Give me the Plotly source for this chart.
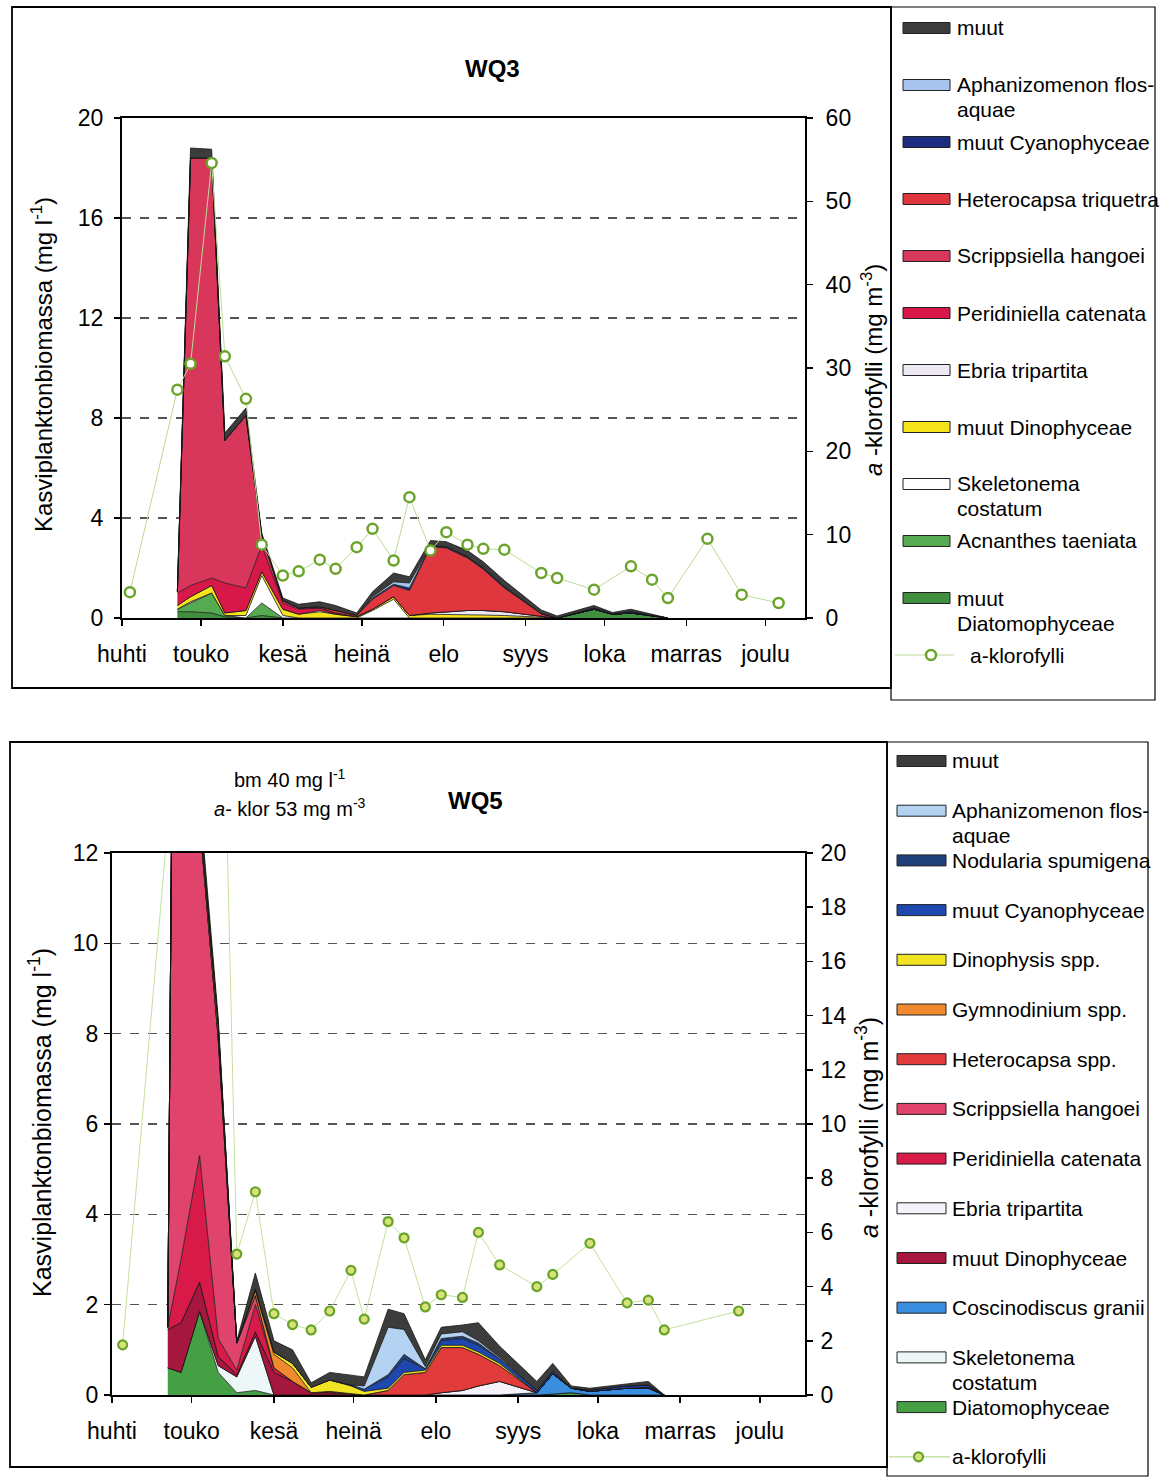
import plotly.graph_objects as go

W, H = 1170, 1477
FONT = "Arial, Liberation Sans, sans-serif"

def px(x):
    return x / W

def py(y):
    return 1 - y / H

# ---------------- data: WQ3 ----------------
month_ticks = ['2000-04-01', '2000-05-01', '2000-06-01', '2000-07-01', '2000-08-01',
               '2000-09-01', '2000-10-01', '2000-11-01', '2000-12-01']
month_names = ['huhti', 'touko', 'kesä', 'heinä', 'elo', 'syys', 'loka', 'marras', 'joulu']

wq3_dates = ['2000-04-22', '2000-04-27', '2000-05-05', '2000-05-10', '2000-05-18', '2000-05-24',
             '2000-06-01', '2000-06-07', '2000-06-15', '2000-06-21', '2000-06-29', '2000-07-05',
             '2000-07-13', '2000-07-19', '2000-07-27', '2000-08-02', '2000-08-10', '2000-08-16',
             '2000-08-24', '2000-09-07', '2000-09-13', '2000-09-27', '2000-10-04', '2000-10-11',
             '2000-10-19', '2000-10-25']
wq3_muut_diatom = [0.25, 0.25, 0.2, 0.05, 0, 0.1, 0, 0, 0, 0, 0, 0, 0, 0, 0, 0, 0, 0, 0, 0, 0, 0.35, 0.15, 0.2, 0.1, 0]
wq3_acnanthes = [0.1, 0.35, 0.8, 0.05, 0, 0.5, 0, 0, 0, 0, 0, 0, 0, 0, 0, 0, 0, 0, 0, 0, 0, 0, 0, 0, 0, 0]
wq3_skeletonema = [0, 0.05, 0, 0, 0.1, 1.1, 0.1, 0, 0, 0, 0, 0.3, 0.75, 0, 0, 0, 0, 0, 0, 0, 0, 0, 0, 0, 0, 0]
wq3_muut_dino = [0.15, 0.2, 0.3, 0.1, 0.2, 0.15, 0.25, 0.15, 0.25, 0.15, 0.05, 0.05, 0.1, 0.1, 0.15, 0.15, 0.15, 0.12, 0.1, 0.02, 0, 0, 0, 0, 0, 0]
wq3_ebria = [0, 0, 0, 0, 0, 0, 0, 0, 0.05, 0, 0, 0, 0, 0, 0.05, 0.1, 0.15, 0.18, 0.15, 0.05, 0, 0, 0, 0, 0, 0]
wq3_peridiniella = [0.5, 0.45, 0.3, 1.2, 0.9, 1.05, 0.25, 0.2, 0.1, 0.05, 0, 0, 0, 0, 0, 0, 0, 0, 0, 0, 0, 0, 0, 0, 0, 0]
wq3_scrippsiella = [0.05, 17.1, 16.8, 5.7, 6.9, 0.4, 0.1, 0.05, 0, 0, 0, 0, 0, 0, 0, 0, 0, 0, 0, 0, 0, 0, 0, 0, 0, 0]
wq3_heterocapsa = [0, 0, 0, 0, 0, 0, 0, 0, 0.05, 0.1, 0.05, 0.4, 0.45, 1.0, 2.65, 2.55, 2.1, 1.65, 0.95, 0.1, 0, 0, 0, 0, 0, 0]
wq3_muut_cyano = [0, 0, 0, 0, 0, 0, 0, 0, 0, 0, 0, 0.05, 0.05, 0.1, 0.05, 0.05, 0.05, 0.05, 0.05, 0, 0, 0.05, 0.02, 0.05, 0, 0]
wq3_aphanizomenon = [0, 0, 0, 0, 0, 0, 0, 0, 0, 0, 0, 0.05, 0.1, 0.2, 0, 0, 0, 0, 0, 0, 0, 0, 0, 0, 0, 0]
wq3_muut = [0.05, 0.4, 0.35, 0.3, 0.3, 0.1, 0.1, 0.15, 0.2, 0.2, 0.1, 0.2, 0.35, 0.25, 0.2, 0.2, 0.25, 0.25, 0.25, 0.15, 0.08, 0.1, 0.05, 0.1, 0.05, 0]

wq3_chl_dates = ['2000-04-04', '2000-04-22', '2000-04-27', '2000-05-05', '2000-05-10', '2000-05-18',
                 '2000-05-24', '2000-06-01', '2000-06-07', '2000-06-15', '2000-06-21', '2000-06-29',
                 '2000-07-05', '2000-07-13', '2000-07-19', '2000-07-27', '2000-08-02', '2000-08-10',
                 '2000-08-16', '2000-08-24', '2000-09-07', '2000-09-13', '2000-09-27', '2000-10-11',
                 '2000-10-19', '2000-10-25', '2000-11-09', '2000-11-22', '2000-12-06']
wq3_chl = [3.1, 27.4, 30.5, 54.6, 31.4, 26.3, 8.8, 5.1, 5.6, 7.0, 5.9, 8.5, 10.7, 6.9, 14.5, 8.1,
           10.3, 8.8, 8.3, 8.2, 5.4, 4.8, 3.4, 6.2, 4.6, 2.4, 9.5, 2.8, 1.8]

# stacking order bottom -> top
wq3_names = ['muut<br>Diatomophyceae', 'Acnanthes taeniata', 'Skeletonema<br>costatum', 'muut Dinophyceae',
             'Ebria tripartita', 'Peridiniella catenata', 'Scrippsiella hangoei', 'Heterocapsa triquetra',
             'muut Cyanophyceae', 'Aphanizomenon flos-<br>aquae', 'muut']
wq3_series = [wq3_muut_diatom, wq3_acnanthes, wq3_skeletonema, wq3_muut_dino, wq3_ebria, wq3_peridiniella,
              wq3_scrippsiella, wq3_heterocapsa, wq3_muut_cyano, wq3_aphanizomenon, wq3_muut]
wq3_colors = ['#3f8f3f', '#56ab52', '#ffffff', '#f5e31c', '#efe8f5', '#d81848', '#d9365c', '#e0373e',
              '#1c2c80', '#a8c4ee', '#3c3c3c']

# ---------------- data: WQ5 ----------------
wq5_dates = ['2000-04-22', '2000-04-27', '2000-05-04', '2000-05-11', '2000-05-18', '2000-05-25',
             '2000-06-01', '2000-06-08', '2000-06-15', '2000-06-22', '2000-06-30', '2000-07-05',
             '2000-07-14', '2000-07-20', '2000-07-28', '2000-08-03', '2000-08-11', '2000-08-17',
             '2000-08-25', '2000-09-08', '2000-09-14', '2000-09-21', '2000-09-28', '2000-10-12',
             '2000-10-20', '2000-10-26']
wq5_diatom = [0.6, 0.5, 1.85, 0.5, 0.05, 0.1, 0, 0, 0, 0, 0, 0, 0, 0, 0, 0, 0, 0, 0, 0, 0.02, 0.05, 0, 0, 0, 0]
wq5_skeletonema = [0, 0, 0, 0.15, 0.35, 1.2, 0, 0, 0, 0, 0, 0, 0, 0, 0, 0, 0, 0, 0, 0, 0, 0, 0, 0, 0, 0]
wq5_coscinodiscus = [0, 0, 0, 0, 0, 0, 0, 0, 0, 0, 0, 0, 0, 0, 0, 0, 0, 0, 0, 0.05, 0.45, 0.1, 0.08, 0.15, 0.15, 0]
wq5_muut_dino = [0.85, 1.1, 0.65, 0.2, 0.05, 0.1, 0.5, 0.3, 0.05, 0.05, 0.03, 0, 0, 0, 0, 0, 0, 0, 0, 0, 0, 0, 0, 0, 0, 0]
wq5_ebria = [0, 0, 0, 0, 0, 0, 0, 0, 0, 0, 0, 0, 0, 0, 0, 0.05, 0.1, 0.2, 0.3, 0, 0, 0, 0, 0, 0, 0]
wq5_peridiniella = [0.05, 1.4, 2.8, 0.4, 0.1, 0.6, 0.1, 0, 0, 0.03, 0, 0, 0, 0, 0, 0, 0, 0, 0, 0, 0, 0, 0, 0, 0, 0]
wq5_scrippsiella = [0, 36.7, 7.4, 6.65, 0.6, 0.2, 0, 0, 0, 0, 0, 0, 0, 0, 0, 0, 0, 0, 0, 0, 0, 0, 0, 0, 0, 0]
wq5_heterocapsa = [0, 0, 0, 0, 0, 0, 0, 0, 0, 0, 0, 0, 0.1, 0.45, 0.5, 1.0, 0.95, 0.7, 0.35, 0, 0, 0, 0, 0, 0.02, 0]
wq5_gymnodinium = [0, 0, 0, 0, 0, 0.1, 0.3, 0.3, 0, 0, 0, 0, 0, 0, 0, 0, 0, 0, 0, 0, 0, 0, 0, 0, 0, 0]
wq5_dinophysis = [0, 0, 0.2, 0.3, 0, 0.05, 0.05, 0.1, 0.12, 0.25, 0.17, 0.08, 0.05, 0.05, 0.05, 0.05, 0.05, 0.05, 0.05, 0, 0, 0, 0, 0, 0, 0]
wq5_muut_cyano = [0, 0, 0, 0, 0, 0, 0, 0, 0, 0, 0.02, 0.05, 0.25, 0.3, 0.03, 0.1, 0.15, 0.15, 0.1, 0.05, 0.05, 0, 0.03, 0.05, 0.05, 0]
wq5_nodularia = [0, 0, 0, 0, 0, 0, 0, 0, 0, 0, 0, 0, 0.05, 0.1, 0, 0.05, 0.05, 0.05, 0, 0, 0, 0, 0, 0, 0, 0]
wq5_aphanizomenon = [0, 0, 0, 0, 0, 0, 0, 0, 0, 0, 0, 0.07, 1.05, 0.55, 0.05, 0.1, 0.1, 0.05, 0.03, 0, 0, 0, 0, 0, 0, 0]
wq5_muut = [0, 0.3, 0.3, 0.15, 0.05, 0.35, 0.25, 0.3, 0.1, 0.17, 0.22, 0.2, 0.4, 0.35, 0.15, 0.15, 0.15, 0.4, 0.25, 0.2, 0.18, 0.05, 0.04, 0.05, 0.08, 0]

wq5_chl_dates = ['2000-04-05', '2000-04-22', '2000-04-27', '2000-05-04', '2000-05-10', '2000-05-18',
                 '2000-05-25', '2000-06-01', '2000-06-08', '2000-06-15', '2000-06-22', '2000-06-30',
                 '2000-07-05', '2000-07-14', '2000-07-20', '2000-07-28', '2000-08-03', '2000-08-11',
                 '2000-08-17', '2000-08-25', '2000-09-08', '2000-09-14', '2000-09-28', '2000-10-12',
                 '2000-10-20', '2000-10-26', '2000-11-23']
wq5_chl = [1.85, 21, 28, 53, 39, 5.2, 7.5, 3.0, 2.6, 2.4, 3.1, 4.6, 2.8, 6.4, 5.8, 3.25, 3.7, 3.6,
           6.0, 4.8, 4.0, 4.45, 5.6, 3.4, 3.5, 2.4, 3.1]

wq5_names = ['Diatomophyceae', 'Skeletonema<br>costatum', 'Coscinodiscus granii', 'muut Dinophyceae',
             'Ebria tripartita', 'Peridiniella catenata', 'Scrippsiella hangoei', 'Heterocapsa spp.',
             'Gymnodinium spp.', 'Dinophysis spp.', 'muut Cyanophyceae', 'Nodularia spumigena',
             'Aphanizomenon flos-<br>aquae', 'muut']
wq5_series = [wq5_diatom, wq5_skeletonema, wq5_coscinodiscus, wq5_muut_dino, wq5_ebria, wq5_peridiniella,
              wq5_scrippsiella, wq5_heterocapsa, wq5_gymnodinium, wq5_dinophysis, wq5_muut_cyano,
              wq5_nodularia, wq5_aphanizomenon, wq5_muut]
wq5_colors = ['#45a045', '#eef7f7', '#3a8ee0', '#a5173e', '#f6f2f9', '#d81a48', '#e0436c', '#e23b3b',
              '#ef8a2e', '#f2e422', '#1f47b0', '#1f3f78', '#b4d2f2', '#3c3c3c']

CHL_NAME = 'a-klorofylli'

# ---------------- figure ----------------
fig = go.Figure()

for name, col, vals in zip(wq3_names, wq3_colors, wq3_series):
    fig.add_trace(go.Scatter(x=wq3_dates, y=vals, name=name.replace('<br>', ' '), mode='lines',
                             stackgroup='wq3', fillcolor=col, line=dict(color='#151515', width=0.8),
                             xaxis='x', yaxis='y', showlegend=False))
fig.add_trace(go.Scatter(x=wq3_chl_dates, y=wq3_chl, name=CHL_NAME, mode='lines+markers',
                         line=dict(color='#bcdc94', width=1),
                         marker=dict(symbol='circle', size=10, color='white',
                                     line=dict(color='#6aa42a', width=2.5)),
                         xaxis='x', yaxis='y2', showlegend=False))

for name, col, vals in zip(wq5_names, wq5_colors, wq5_series):
    fig.add_trace(go.Scatter(x=wq5_dates, y=vals, name=name.replace('<br>', ' '), mode='lines',
                             stackgroup='wq5', fillcolor=col, line=dict(color='#151515', width=0.8),
                             xaxis='x2', yaxis='y3', showlegend=False))
fig.add_trace(go.Scatter(x=wq5_chl_dates, y=wq5_chl, name=CHL_NAME, mode='lines+markers',
                         line=dict(color='#c4e09c', width=1),
                         marker=dict(symbol='circle', size=9, color='#d8e27a',
                                     line=dict(color='#68a428', width=2.2)),
                         xaxis='x2', yaxis='y4', showlegend=False))

tickfont = dict(family=FONT, size=23, color='black')

def xax(dom, anchor, rng):
    return dict(domain=dom, anchor=anchor, type='date', range=rng, tickvals=month_ticks,
                ticktext=month_names, ticks='outside', ticklen=6, tickwidth=1.5, tickcolor='black',
                showline=True, linecolor='black', linewidth=2, mirror=True, showgrid=False,
                zeroline=False, tickfont=tickfont, ticklabelstandoff=8, fixedrange=True,
                automargin=False)

def yleft(dom, anchor, rng, dt, standoff):
    return dict(domain=dom, anchor=anchor, range=rng, dtick=dt, tick0=0, ticks='outside', ticklen=6,
                tickwidth=1.5, tickcolor='black', showline=True, linecolor='black', linewidth=2,
                mirror=True, showgrid=True, gridcolor='#555555', griddash='dash', gridwidth=1.2,
                zeroline=False, tickfont=tickfont, ticklabelstandoff=standoff, automargin=False,
                fixedrange=True)

def yright(over, anchor, rng, dt, standoff):
    return dict(overlaying=over, anchor=anchor, side='right', range=rng, dtick=dt, tick0=0,
                ticks='outside', ticklen=6, tickwidth=1.5, tickcolor='black', showline=True,
                linecolor='black', linewidth=2, showgrid=False, zeroline=False, tickfont=tickfont,
                ticklabelstandoff=standoff, automargin=False, fixedrange=True)

fig.update_layout(
    template='none',
    width=W, height=H, margin=dict(l=0, r=0, t=0, b=0, pad=0, autoexpand=False),
    paper_bgcolor='white', plot_bgcolor='white', showlegend=False,
    font=dict(family=FONT, color='black'),
    xaxis=xax([px(122), px(805)], 'y', ['2000-04-01', '2000-12-16']),
    yaxis=yleft([py(618), py(118)], 'x', [0, 20], 4, 6),
    yaxis2=yright('y', 'x', [0, 60], 10, 8),
    xaxis2=xax([px(112), px(805)], 'y3', ['2000-04-01', '2000-12-18']),
    yaxis3=yleft([py(1395), py(853)], 'x2', [0, 12], 2, 1),
    yaxis4=yright('y3', 'x2', [0, 20], 2, 3),
)

shapes = []
annotations = []

def frame(x0, y0, x1, y1, w=1.8):
    shapes.append(dict(type='rect', xref='paper', yref='paper', x0=px(x0), x1=px(x1),
                       y0=py(y1), y1=py(y0), line=dict(color='black', width=w)))

def text(x, y, s, size=21, xanchor='left', yanchor='middle', angle=0):
    annotations.append(dict(x=px(x), y=py(y), xref='paper', yref='paper', text=s, showarrow=False,
                            xanchor=xanchor, yanchor=yanchor, textangle=angle, align='left',
                            font=dict(family=FONT, size=size, color='black')))

# frames
frame(12, 7, 891, 688)
frame(891, 7, 1155, 700, 1.2)
frame(10, 742, 887, 1467)
frame(887, 742, 1148, 1476, 1.2)

# titles and axis titles
text(492, 68, '<b>WQ3</b>', size=24, xanchor='center')
text(475, 800, '<b>WQ5</b>', size=24, xanchor='center')
text(290, 778, 'bm 40 mg l<sup>-1</sup>', size=20, xanchor='center')
text(290, 807, '<i>a</i>- klor 53 mg m<sup>-3</sup>', size=20, xanchor='center')
text(42, 365, 'Kasviplanktonbiomassa (mg l<sup>-1</sup>)', size=24, xanchor='center', angle=-90)
text(872, 370, '<i>a</i> -klorofylli (mg m<sup>-3</sup>)', size=24, xanchor='center', angle=-90)
text(40, 1123, 'Kasviplanktonbiomassa (mg l<sup>-1</sup>)', size=25, xanchor='center', angle=-90)
text(867, 1128, '<i>a</i> -klorofylli (mg m<sup>-3</sup>)', size=25, xanchor='center', angle=-90)

# manual legends (top -> bottom is reverse stacking order)
LEG_SIZE = 21
LINE_GAP = 25

def legend(names, colors, sw_x0, sw_x1, text_x, y0, step):
    entries = list(zip(names, colors))[::-1]
    for i, (nm, col) in enumerate(entries):
        yc = y0 + i * step
        shapes.append(dict(type='rect', xref='paper', yref='paper', x0=px(sw_x0), x1=px(sw_x1),
                           y0=py(yc + 5.5), y1=py(yc - 5.5), fillcolor=col,
                           line=dict(color='#222222', width=1)))
        for k, part in enumerate(nm.split('<br>')):
            text(text_x, yc + k * LINE_GAP, part, size=LEG_SIZE)
    yc = y0 + len(entries) * step
    shapes.append(dict(type='line', xref='paper', yref='paper', x0=px(sw_x0 - 8), x1=px(sw_x1 + 4),
                       y0=py(yc), y1=py(yc), line=dict(color='#bcdc94', width=1.2)))
    return yc

yc3 = legend(wq3_names, wq3_colors, 903, 950, 955, 28, 57)
text(968, yc3, CHL_NAME, size=LEG_SIZE)
shapes.append(dict(type='circle', xref='paper', yref='paper', x0=px(926), x1=px(936),
                   y0=py(yc3 + 5), y1=py(yc3 - 5), fillcolor='white', line=dict(color='#6aa42a', width=2.5)))

yc5 = legend(wq5_names, wq5_colors, 897, 946, 950, 761, 49.7)
text(950, yc5, CHL_NAME, size=LEG_SIZE)
shapes.append(dict(type='circle', xref='paper', yref='paper', x0=px(914), x1=px(923),
                   y0=py(yc5 + 4.5), y1=py(yc5 - 4.5), fillcolor='#d8e27a', line=dict(color='#68a428', width=2.2)))

fig.update_layout(shapes=shapes, annotations=annotations)

fig.write_html("out.html", config={'displayModeBar': False, 'staticPlot': True},
               post_script="document.body.style.margin='0px';")
